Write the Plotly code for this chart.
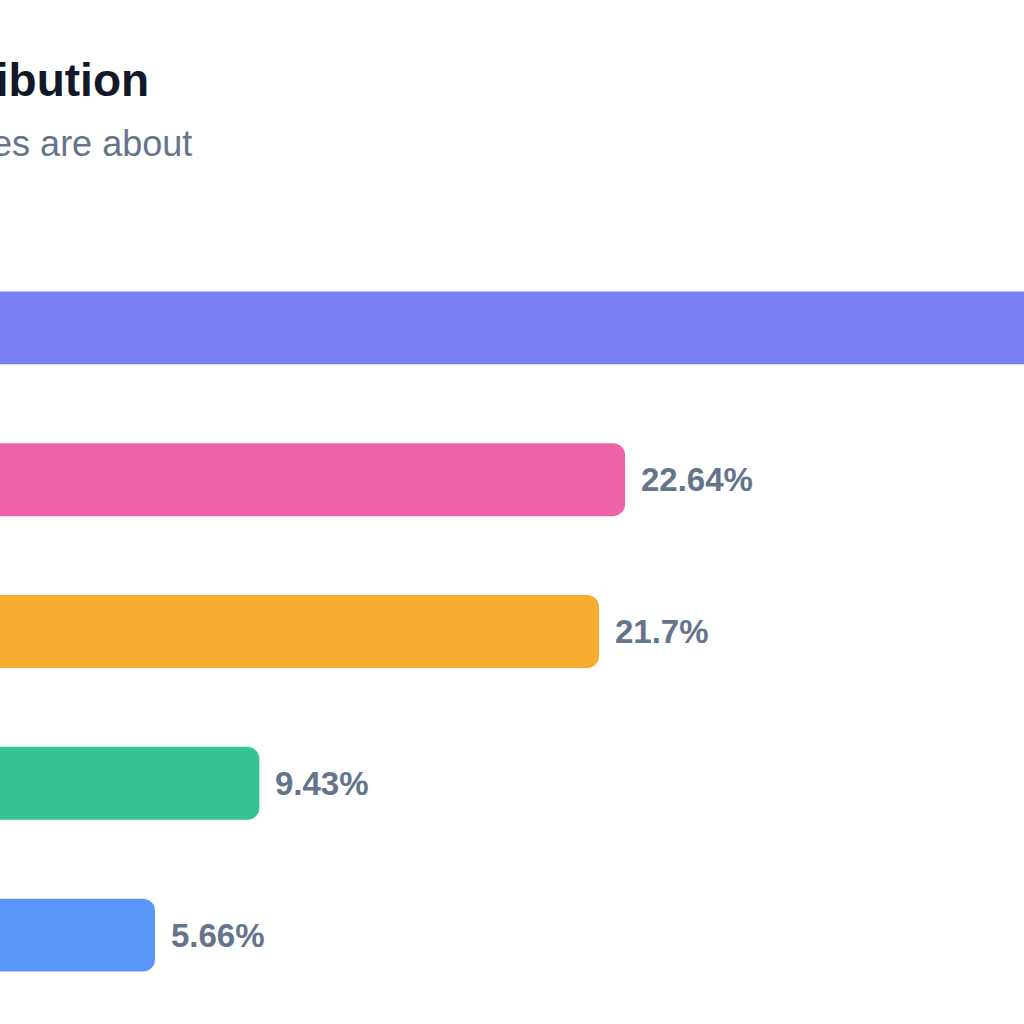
import plotly.graph_objects as go

categories = ["Technology", "Business", "Politics", "Science", "Health"]
values = [40.57, 22.64, 21.7, 9.43, 5.66]
colors = ["#7B7EF3", "#EF64A8", "#F6AD2F", "#35C494", "#5A96F8"]
title_text = "Topic Distribution"
subtitle_text = "What the articles are about"

FONT = "Liberation Sans, Arial, Helvetica, sans-serif"

fig = go.Figure()
fig.add_trace(go.Bar(
    x=values,
    y=categories,
    orientation="h",
    marker=dict(color=colors, cornerradius=12, line=dict(width=0)),
    hoverinfo="skip",
))

annotations = []
for c, v in zip(categories, values):
    annotations.append(dict(
        x=v, y=c, xref="x", yref="y",
        text=f"{v:g}%", showarrow=False,
        xanchor="left", yanchor="middle", xshift=14,
        font=dict(family=FONT, size=33, color="#64748B", weight="bold"),
    ))

# title and subtitle (left part falls outside the visible page, as in the reference crop)
annotations.append(dict(
    x=151 / 1024, y=(1011 - 80) / 759, xref="paper", yref="paper",
    text=f"<b>{title_text}</b>", showarrow=False,
    xanchor="right", yanchor="middle",
    font=dict(family=FONT, size=46, color="#111827"),
))
annotations.append(dict(
    x=194 / 1024, y=(1011 - 143) / 759, xref="paper", yref="paper",
    text=subtitle_text, showarrow=False,
    xanchor="right", yanchor="middle",
    font=dict(family=FONT, size=36, color="#64748B"),
))

fig.update_layout(
    width=1024, height=1024,
    margin=dict(l=0, r=0, t=252, b=13, pad=0),
    paper_bgcolor="white", plot_bgcolor="white",
    bargap=0.52,
    showlegend=False,
    xaxis=dict(range=[0.06, 37.05], visible=False, fixedrange=True),
    yaxis=dict(autorange="reversed", showticklabels=False, showgrid=False,
               zeroline=False, showline=False, ticks="", fixedrange=True),
    annotations=annotations,
)

fig.write_html("out.html")
